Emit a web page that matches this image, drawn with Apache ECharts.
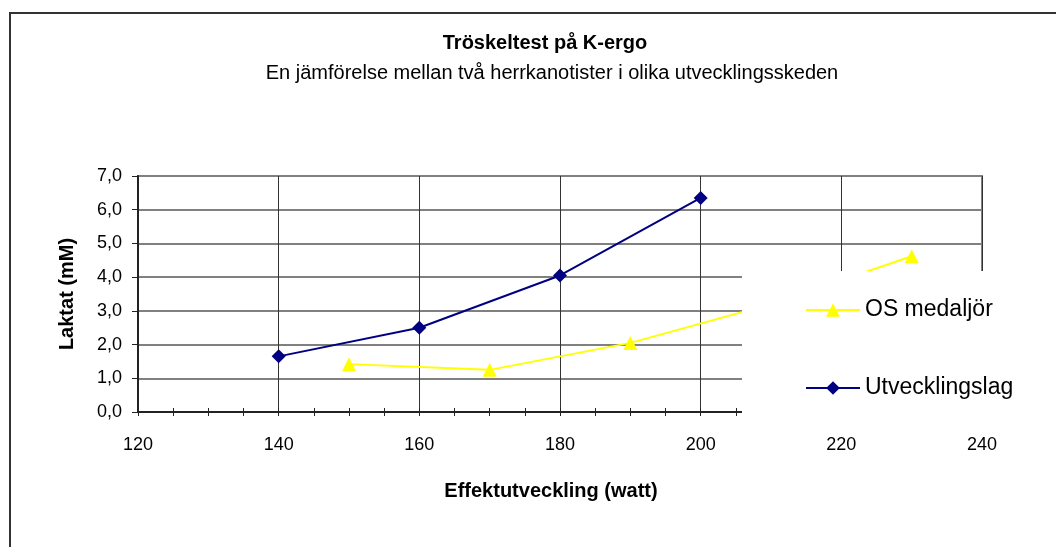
<!DOCTYPE html>
<html>
<head>
<meta charset="utf-8">
<title>Tröskeltest på K-ergo</title>
<script src="https://cdn.jsdelivr.net/npm/echarts@6/dist/echarts.min.js"></script>
<style>
  html, body { margin: 0; padding: 0; background: #fff; }
  #main { width: 1056px; height: 547px; }
</style>
</head>
<body>
<div id="main"></div>
<script>
// effekt (watt) och laktat (mM)
var osWatt = [150, 170, 190, 210, 230];
var osLaktat = [1.42, 1.25, 2.05, 3.2, 4.62];
var utvWatt = [140, 160, 180, 200];
var utvLaktat = [1.65, 2.5, 4.05, 6.35];
var seriesNames = ['OS medaljör', 'Utvecklingslag'];

var FONT = '"Liberation Sans", Arial, sans-serif';

function pairs(xs, ys) {
  var out = [];
  for (var i = 0; i < xs.length; i++) out.push([xs[i], ys[i]]);
  return out;
}

var myChart = echarts.init(document.getElementById('main'));
var option = {
  backgroundColor: '#fff',
  animation: false,
  title: [{
    text: 'Tröskeltest på K-ergo',
    left: 540, top: 28, textAlign: 'center',
    textStyle: { fontFamily: FONT, fontSize: 20, fontWeight: 'bold', color: '#000' }
  }, {
    text: 'En jämförelse mellan två herrkanotister i olika utvecklingsskeden',
    left: 547, top: 58, textAlign: 'center',
    textStyle: { fontFamily: FONT, fontSize: 20, fontWeight: 'normal', color: '#000' }
  }],
  grid: {
    left: 138, right: 74, top: 176, bottom: 135,
    show: true, borderColor: '#808080', borderWidth: 2, backgroundColor: 'transparent'
  },
  legend: {
    data: seriesNames,
    orient: 'vertical',
    left: 800, top: 293,
    itemWidth: 54, itemHeight: 17, itemGap: 54,
    z: 20,
    textStyle: { fontFamily: FONT, fontSize: 23, lineHeight: 24, color: '#000' }
  },
  graphic: [{
    type: 'rect', z: 10,
    shape: { x: 742, y: 271, width: 250, height: 146 },
    style: { fill: '#fff' }
  }, {
    type: 'rect', z: 30,
    shape: { x: 10, y: 13, width: 1060, height: 560 },
    style: { fill: 'none', stroke: '#333', lineWidth: 2 }
  }],
  xAxis: [{
    type: 'value', min: 120, max: 240, interval: 20,
    name: 'Effektutveckling (watt)', nameLocation: 'middle', nameGap: 69,
    nameTextStyle: { fontFamily: FONT, fontSize: 20, fontWeight: 'bold', color: '#000', padding: [0, 18, 0, 0] },
    axisLine: { show: true, lineStyle: { color: '#222', width: 2 } },
    axisTick: { show: true, length: 4, lineStyle: { color: '#222' } },
    minorTick: { show: true, splitNumber: 4, length: 4, lineStyle: { color: '#222' } },
    axisLabel: { fontFamily: FONT, fontSize: 18, color: '#000', margin: 24 },
    splitLine: { show: true, lineStyle: { color: '#333', width: 1 } }
  }, {
    type: 'value', min: 120, max: 240, interval: 20, position: 'bottom',
    axisLine: { show: false },
    axisTick: { show: true, inside: true, length: 4, lineStyle: { color: '#222' } },
    minorTick: { show: true, splitNumber: 4, length: 4, lineStyle: { color: '#222' } },
    axisLabel: { show: false },
    splitLine: { show: false }
  }],
  yAxis: {
    type: 'value', min: 0, max: 7, interval: 1,
    name: 'Laktat (mM)', nameLocation: 'middle', nameGap: 61,
    nameTextStyle: { fontFamily: FONT, fontSize: 20, fontWeight: 'bold', color: '#000' },
    axisLine: { show: true, lineStyle: { color: '#222', width: 2 } },
    axisTick: { show: true, length: 6, lineStyle: { color: '#222' } },
    axisLabel: {
      fontFamily: FONT, fontSize: 18, color: '#000', margin: 16,
      formatter: function (v) { return v.toFixed(1).replace('.', ','); }
    },
    splitLine: { show: true, lineStyle: { color: '#808080', width: 2 } }
  },
  series: [{
    name: seriesNames[0],
    type: 'line',
    data: pairs(osWatt, osLaktat),
    symbol: 'triangle', symbolSize: 14,
    lineStyle: { color: '#ffff00', width: 2 },
    itemStyle: { color: '#ffff00' }
  }, {
    name: seriesNames[1],
    type: 'line',
    data: pairs(utvWatt, utvLaktat),
    symbol: 'diamond', symbolSize: 14,
    lineStyle: { color: '#000080', width: 2 },
    itemStyle: { color: '#000080' }
  }]
};
myChart.setOption(option);
</script>
</body>
</html>
